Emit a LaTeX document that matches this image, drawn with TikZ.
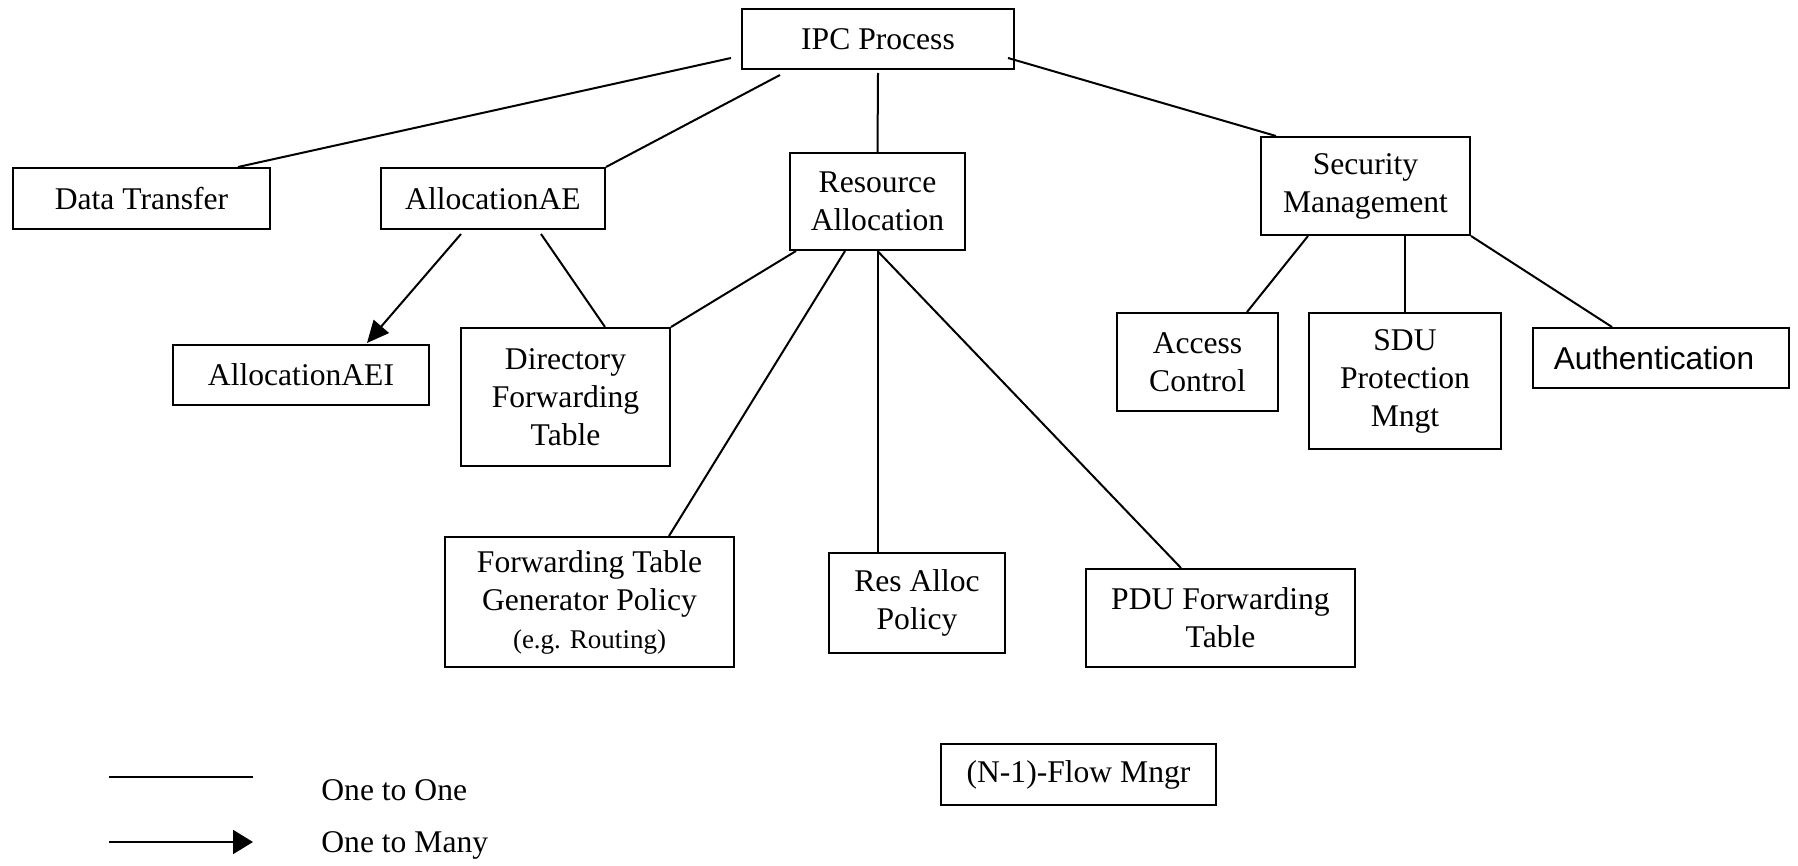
\documentclass[tikz,border=0pt]{standalone}
\usepackage{fontspec}
\setmainfont{Liberation Serif}
\newfontfamily\sansf{Liberation Sans}
\usetikzlibrary{arrows.meta}
\begin{document}
\begin{tikzpicture}[x=0.5pt,y=-0.5pt,
  box/.style={draw, line width=1pt, inner sep=0pt, align=center, font=\fontsize{15.8}{19}\selectfont},
  conn/.style={line width=1pt},
  many/.style={line width=1pt, -{Triangle[length=11pt,width=10pt]}},
  legendmany/.style={line width=1pt, -{Triangle[length=10pt,width=12pt]}},
  lbl/.style={anchor=west, inner sep=0pt, font=\fontsize{15.8}{19}\selectfont}]
\useasboundingbox (0,0) rectangle (1798,866);
% boxes
\node[box, minimum width=136pt, minimum height=30pt] (ipc) at (878,39) {IPC Process};
\node[box, minimum width=128.5pt, minimum height=30.5pt] (dt) at (141.5,198.5) {Data Transfer};
\node[box, minimum width=112pt, minimum height=30.5pt] (aae) at (493,198.5) {AllocationAE};
\node[box, minimum width=87.5pt, minimum height=48.5pt] (ra) at (877.5,201.5) {Resource\\Allocation};
\node[box, minimum width=104.5pt, minimum height=49pt] (sm) at (1365.5,186) {Security\\Management};
\node[box, minimum width=128pt, minimum height=30pt] (aaei) at (301,375) {AllocationAEI};
\node[box, minimum width=104.5pt, minimum height=69pt] (dft) at (565.5,397) {Directory\\Forwarding\\Table};
\node[box, minimum width=144.5pt, minimum height=65pt] (ftg) at (589.5,602) {Forwarding Table\\Generator Policy\\{\fontsize{13.5}{17}\selectfont (e.g. Routing)}};
\node[box, minimum width=88pt, minimum height=50pt] (rap) at (917,603) {Res Alloc\\Policy};
\node[box, minimum width=134.5pt, minimum height=49pt] (pdu) at (1220.5,618) {PDU Forwarding\\Table};
\node[box, minimum width=80.5pt, minimum height=49pt] (ac) at (1197.5,362) {Access\\Control};
\node[box, minimum width=96pt, minimum height=68pt] (sdu) at (1405,381) {SDU\\Protection\\Mngt};
\node[box, minimum width=128pt, minimum height=30pt] (auth) at (1661,358) {\sansf Authentication\hspace*{7pt}};
\node[box, minimum width=137.5pt, minimum height=30.5pt] (nflow) at (1078.5,774.5) {(N-1)-Flow Mngr};
% connectors
\draw[conn] ([shift={(-10,-12)}]ipc.south west) -- ([shift={(-33,0)}]dt.north east);
\draw[conn] ([shift={(39,5)}]ipc.south west) -- (aae.north east);
\draw[conn] ([shift={(0,3)}]ipc.south) -- (ra.north);
\draw[conn] ([shift={(-7,-12)}]ipc.south east) -- ([shift={(16,0)}]sm.north west);
\draw[many] ([shift={(-32,4)}]aae.south) -- ([shift={(66,-1)}]aaei.north);
\draw[conn] ([shift={(48,4)}]aae.south) -- ([shift={(39.5,0)}]dft.north);
\draw[conn] ([shift={(7,0)}]ra.south west) -- (dft.north east);
\draw[conn] ([shift={(-32.5,0)}]ra.south) -- ([shift={(79.5,0)}]ftg.north);
\draw[conn] (ra.south) -- (ra.south |- rap.north);
\draw[conn] (ra.south) -- ([shift={(-39.5,0)}]pdu.north);
\draw[conn] ([shift={(-57.5,0)}]sm.south) -- ([shift={(49.5,0)}]ac.north);
\draw[conn] ([shift={(39.5,0)}]sm.south) -- (sdu.north);
\draw[conn] (sm.south east) -- ([shift={(-49,0)}]auth.north);
% legend
\coordinate (l1a) at (109,777);
\coordinate (l1b) at (253,777);
\coordinate (l2a) at (109,842);
\coordinate (l2b) at (253,842);
\draw[conn] (l1a) -- (l1b);
\draw[legendmany] (l2a) -- (l2b);
\node[lbl] (t1) at (321,790) {One to One};
\node[lbl] (t2) at (321,845) {One to Many};
\end{tikzpicture}
\end{document}
